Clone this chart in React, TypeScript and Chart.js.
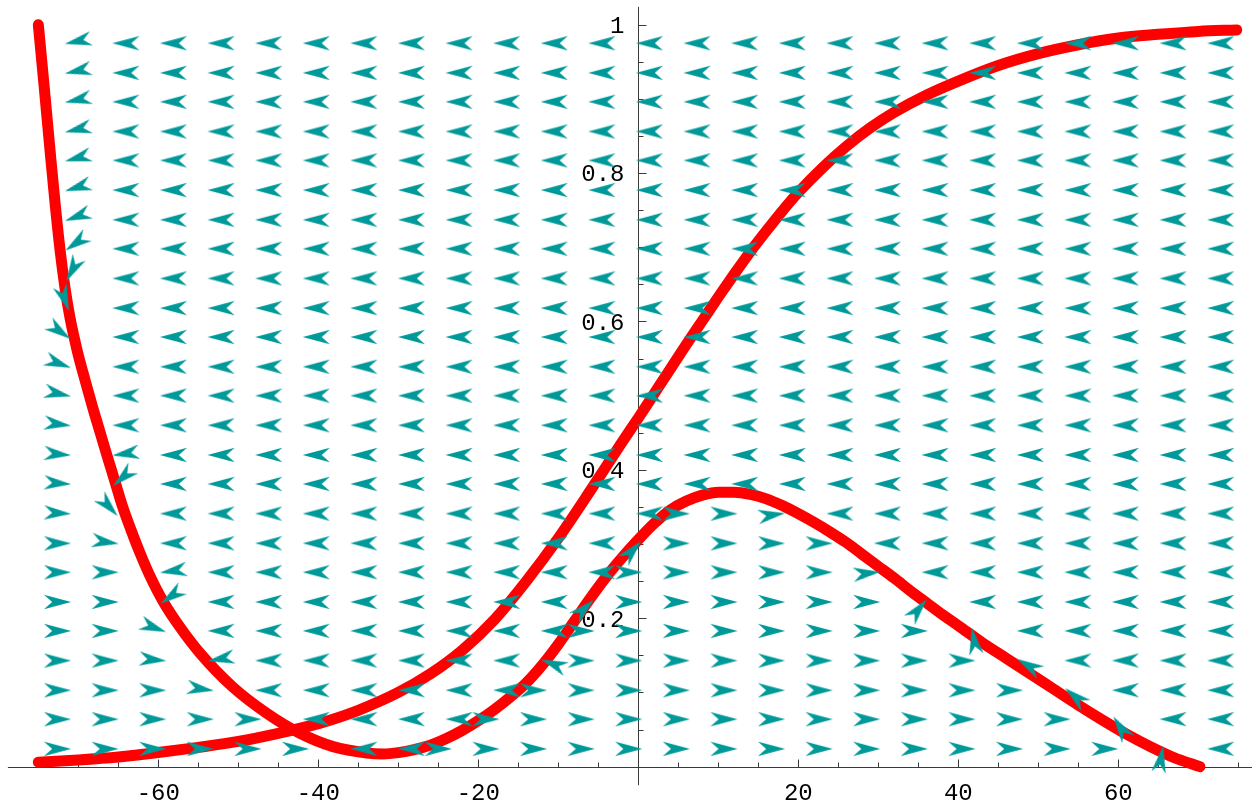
import React, { useEffect, useRef } from "react";
import { Chart, registerables } from "chart.js";

Chart.register(...registerables);

// Visible window of the plot (data units)
const X_MIN = -79.79;
const X_MAX = 76.71;
const Y_MIN = -0.053;
const Y_MAX = 1.0333;

// Extent of the drawn axis lines
const X_AXIS_FROM = -78.8;
const X_AXIS_TO = 76.71;
const Y_AXIS_TOP = 1.024;
const Y_AXIS_BOTTOM = -0.025;

// Tick marks and labels
const xMinorTicks = [-75, -70, -65, -55, -50, -45, -35, -30, -25, -15, -10, -5, 5, 10, 15, 25, 30, 35, 45, 50, 55, 65, 70, 75];
const xMajorTicks = [-60, -40, -20, 20, 40, 60];
const xTickLabels = ["-60", "-40", "-20", "20", "40", "60"];
const yMinorTicks = [0.05, 0.1, 0.15, 0.25, 0.3, 0.35, 0.45, 0.5, 0.55, 0.65, 0.7, 0.75, 0.85, 0.9, 0.95];
const yMajorTicks = [0.2, 0.4, 0.6, 0.8, 1];
const yTickLabels = ["0.2", "0.4", "0.6", "0.8", "1"];

// Direction-field sample grid
const fieldX = [
  -71.3, -65.35, -59.4, -53.45, -47.5, -41.55, -35.6, -29.65, -23.7, -17.75, -11.8, -5.85, 0.1,
  6.05, 12.0, 17.95, 23.9, 29.85, 35.8, 41.75, 47.7, 53.65, 59.6, 65.55, 71.5,
];
const fieldY = [
  0.975, 0.935, 0.896, 0.856, 0.817, 0.777, 0.737, 0.698, 0.658, 0.618, 0.579, 0.539, 0.5,
  0.46, 0.42, 0.381, 0.341, 0.301, 0.262, 0.222, 0.183, 0.143, 0.103, 0.064, 0.024,
];
// L = arrow pointing left, R = arrow pointing right (one string per row, top to bottom)
const fieldRows = [
  "LLLLLLLLLLLLLLLLLLLLLLLLL",
  "LLLLLLLLLLLLLLLLLLLLLLLLL",
  "LLLLLLLLLLLLLLLLLLLLLLLLL",
  "LLLLLLLLLLLLLLLLLLLLLLLLL",
  "LLLLLLLLLLLLLLLLLLLLLLLLL",
  "LLLLLLLLLLLLLLLLLLLLLLLLL",
  "LLLLLLLLLLLLLLLLLLLLLLLLL",
  "LLLLLLLLLLLLLLLLLLLLLLLLL",
  "LLLLLLLLLLLLLLLLLLLLLLLLL",
  "RLLLLLLLLLLLLLLLLLLLLLLLL",
  "RLLLLLLLLLLLLLLLLLLLLLLLL",
  "RLLLLLLLLLLLLLLLLLLLLLLLL",
  "RLLLLLLLLLLLLLLLLLLLLLLLL",
  "RLLLLLLLLLLLLLLLLLLLLLLLL",
  "RLLLLLLLLLLLLLLLLLLLLLLLL",
  "RLLLLLLLLLLLLLLLLLLLLLLLL",
  "RRLLLLLLLLLLLRRRLLLLLLLLL",
  "RRLLLLLLLLLLRRRRRLLLLLLLL",
  "RRLLLLLLLLLLRRRRRRLLLLLLL",
  "RRLLLLLLLLLRRRRRRRRLLLLLL",
  "RRRLLLLLLLLRRRRRRRRLLLLLL",
  "RRRLLLLLLLLRRRRRRRRRLLLLL",
  "RRRRLLLLLLRRRRRRRRRRRLLLL",
  "RRRRRLLLLRRRRRRRRRRRRRLLL",
  "RRRRRRLLRRRRRRRRRRRRRRRLL",
];
// Arrows that turn away from horizontal: [column, row, direction in degrees]
const fieldTilts: [number, number, number][] = [
  [0, 0, 192], [0, 1, 192], [0, 2, 192], [0, 3, 193], [0, 4, 195], [0, 5, 197], [0, 6, 200],
  [0, 7, 215], [0, 8, 242], [0, 9, 290], [0, 10, 325], [0, 11, 340], [0, 12, 348], [0, 13, 353],
  [0, 14, 355], [0, 15, 356], [0, 16, 357],
  [1, 14, 188], [1, 15, 222], [1, 16, 313], [1, 17, 352],
  [2, 18, 188], [2, 19, 215], [2, 20, 340], [2, 21, 355],
  [3, 21, 190], [3, 22, 352],
  [10, 21, 159],
  [11, 19, 43],
  [12, 17, 48],
  [15, 16, 8],
  [17, 18, 6],
  [18, 19, 50],
  [19, 20, 100],
  [20, 21, 150],
  [21, 22, 140],
  [22, 23, 123],
  [23, 24, 80],
];

// Red curve that falls from the top left, dips, rises to a hump and falls again
const valleyX = [
  -75.0, -74.29, -73.54, -72.91, -72.29, -71.66, -71.04, -70.1, -69.16, -68.23, -67.29, -66.35,
  -65.41, -64.48, -63.41, -62.29, -61.04, -59.41, -57.29, -54.79, -50.66, -46.45, -42.29, -38.16,
  -33.95, -31.88, -30, -28, -26, -24, -22, -20, -18, -16, -14, -12, -10, -8, -6, -4, -2, 0, 2, 4,
  6, 8, 10, 12, 14, 16, 18, 20, 22, 24, 26, 28, 30, 32, 34, 36, 38, 40, 43, 46, 49, 52, 55, 58,
  61, 64, 67, 70.2,
];
const valleyY = [
  1.0, 0.919, 0.831, 0.76, 0.697, 0.645, 0.605, 0.559, 0.521, 0.485, 0.451, 0.417, 0.384, 0.351,
  0.319, 0.288, 0.257, 0.223, 0.188, 0.153, 0.107, 0.072, 0.045, 0.027, 0.0185, 0.0172, 0.019,
  0.023, 0.029, 0.038, 0.049, 0.062, 0.077, 0.094, 0.113, 0.137, 0.165, 0.196, 0.227, 0.256,
  0.282, 0.306, 0.328, 0.346, 0.358, 0.366, 0.37, 0.37, 0.367, 0.361, 0.352, 0.341, 0.329, 0.316,
  0.302, 0.286, 0.27, 0.254, 0.237, 0.221, 0.205, 0.19, 0.167, 0.146, 0.125, 0.104, 0.083, 0.063,
  0.044, 0.027, 0.012, 0.0,
];

// Red S-shaped curve rising from near 0 to near 1
const sigmoidX = [
  -75.0, -70, -65, -60, -55, -50, -45, -40, -35, -30, -26, -22, -18, -14, -10, -6, -2, 0, 2, 4, 6,
  8, 10, 12, 14, 16, 18, 20, 23, 26, 29, 32, 36, 40, 45, 50, 55, 60, 65, 70, 74.8,
];
const sigmoidY = [
  0.006, 0.009, 0.013, 0.019, 0.026, 0.034, 0.045, 0.058, 0.076, 0.1, 0.125, 0.157, 0.198, 0.25,
  0.308, 0.372, 0.438, 0.47, 0.503, 0.536, 0.569, 0.601, 0.633, 0.664, 0.694, 0.722, 0.749, 0.774,
  0.807, 0.836, 0.861, 0.882, 0.905, 0.924, 0.945, 0.961, 0.973, 0.982, 0.987, 0.991, 0.993,
];

const ARROW_COLOR = "#009999";
const CURVE_COLOR = "#ff0000";
const AXIS_COLOR = "#3a3a3a";
const LABEL_FONT = "24px 'Liberation Mono', 'DejaVu Sans Mono', monospace";

// Arrowhead sprite pointing to the right; its centre is the grid point,
// so the tip sits just past the point and the body trails behind it.
function makeArrowHead(color: string): HTMLCanvasElement {
  const c = document.createElement("canvas");
  c.width = 60;
  c.height = 20;
  const g = c.getContext("2d")!;
  g.fillStyle = color;
  g.beginPath();
  g.moveTo(33.2, 10);
  g.lineTo(6, 2.7);
  g.lineTo(14.2, 10);
  g.lineTo(6, 17.3);
  g.closePath();
  g.fill();
  return c;
}

const crossAxesPlugin = {
  id: "crossAxes",
  beforeDatasetsDraw(chart: any) {
    const { ctx } = chart;
    const xs = chart.scales.x;
    const ys = chart.scales.y;
    const snap = (v: number) => Math.round(v) + 0.5;
    const x0 = snap(xs.getPixelForValue(0));
    const y0 = snap(ys.getPixelForValue(0));
    ctx.save();
    ctx.strokeStyle = AXIS_COLOR;
    ctx.lineWidth = 1;
    ctx.beginPath();
    ctx.moveTo(xs.getPixelForValue(X_AXIS_FROM), y0);
    ctx.lineTo(xs.getPixelForValue(X_AXIS_TO), y0);
    ctx.moveTo(x0, ys.getPixelForValue(Y_AXIS_TOP));
    ctx.lineTo(x0, ys.getPixelForValue(Y_AXIS_BOTTOM));
    xMinorTicks.forEach((v) => {
      const px = snap(xs.getPixelForValue(v));
      ctx.moveTo(px, y0);
      ctx.lineTo(px, y0 - 5);
    });
    xMajorTicks.forEach((v) => {
      const px = snap(xs.getPixelForValue(v));
      ctx.moveTo(px, y0);
      ctx.lineTo(px, y0 - 8);
    });
    yMinorTicks.forEach((v) => {
      const py = snap(ys.getPixelForValue(v));
      ctx.moveTo(x0, py);
      ctx.lineTo(x0 + 5, py);
    });
    yMajorTicks.forEach((v) => {
      const py = snap(ys.getPixelForValue(v));
      ctx.moveTo(x0, py);
      ctx.lineTo(x0 + 8, py);
    });
    ctx.stroke();

    ctx.fillStyle = "#000";
    ctx.font = LABEL_FONT;
    ctx.textBaseline = "alphabetic";
    ctx.textAlign = "center";
    xMajorTicks.forEach((v, i) => {
      ctx.fillText(xTickLabels[i], xs.getPixelForValue(v), y0 + 32.5);
    });
    ctx.textAlign = "right";
    yMajorTicks.forEach((v, i) => {
      ctx.fillText(yTickLabels[i], x0 - 14, ys.getPixelForValue(v) + 8.3);
    });
    ctx.restore();
  },
};

export default function App() {
  const canvasRef = useRef<HTMLCanvasElement | null>(null);

  useEffect(() => {
    const canvas = canvasRef.current;
    if (!canvas) return;

    const fieldPoints: { x: number; y: number }[] = [];
    const directions: number[] = [];
    fieldRows.forEach((row, j) => {
      for (let k = 0; k < fieldX.length; k++) {
        fieldPoints.push({ x: fieldX[k], y: fieldY[j] });
        directions.push(row[k] === "L" ? 180 : 0);
      }
    });
    fieldTilts.forEach(([k, j, deg]) => {
      directions[j * fieldX.length + k] = deg;
    });
    // canvas rotation runs clockwise, directions are counter-clockwise
    const rotations = directions.map((d) => -d);

    const valley = valleyX.map((x, i) => ({ x, y: valleyY[i] }));
    const sigmoid = sigmoidX.map((x, i) => ({ x, y: sigmoidY[i] }));
    const arrowHead = makeArrowHead(ARROW_COLOR);

    const curveStyle = {
      borderColor: CURVE_COLOR,
      backgroundColor: CURVE_COLOR,
      borderWidth: 11,
      pointRadius: 0,
      fill: false,
      cubicInterpolationMode: "monotone" as const,
      borderCapStyle: "round" as const,
      borderJoinStyle: "round" as const,
      order: 1,
    };

    const chart = new Chart(canvas, {
      type: "scatter",
      data: {
        datasets: [
          {
            type: "scatter",
            label: "field",
            data: fieldPoints,
            pointStyle: arrowHead as any,
            pointRotation: rotations,
            pointRadius: 5,
            order: 0,
          } as any,
          { type: "line", label: "valley", data: valley, ...curveStyle } as any,
          { type: "line", label: "sigmoid", data: sigmoid, ...curveStyle } as any,
        ],
      },
      options: {
        responsive: false,
        animation: false,
        devicePixelRatio: 1,
        events: [],
        layout: { padding: 0, autoPadding: false },
        plugins: {
          legend: { display: false },
          tooltip: { enabled: false },
        },
        scales: {
          x: { type: "linear", min: X_MIN, max: X_MAX, display: false },
          y: { type: "linear", min: Y_MIN, max: Y_MAX, display: false },
        },
      },
      plugins: [crossAxesPlugin],
    });

    return () => {
      chart.destroy();
    };
  }, []);

  return (
    <div
      style={{
        position: "fixed",
        left: 0,
        top: 0,
        width: 1252,
        height: 806,
        background: "#ffffff",
      }}
    >
      <canvas ref={canvasRef} width={1252} height={806} style={{ display: "block" }} />
    </div>
  );
}
